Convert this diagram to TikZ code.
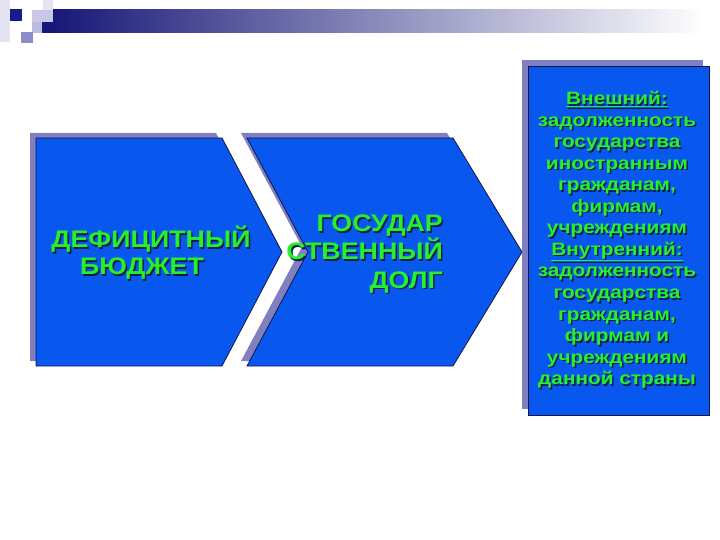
\documentclass[tikz,border=0pt]{standalone}
\usepackage{fontspec}
\setmainfont{Liberation Sans}
\newfontfamily\widefont[FakeStretch=1.12]{Liberation Sans}
\newfontfamily\widerfont[FakeStretch=1.16]{Liberation Sans}
\definecolor{fblue}{RGB}{8,88,240}
\definecolor{lav}{RGB}{128,128,192}
\definecolor{navyline}{RGB}{20,20,70}
\definecolor{tgreen}{RGB}{40,240,40}
\definecolor{tshadow}{RGB}{10,30,80}
\definecolor{barnavy}{RGB}{24,24,120}
\definecolor{paleL}{RGB}{228,228,242}
\definecolor{lightL}{RGB}{200,200,230}
\definecolor{midL}{RGB}{140,140,200}
\definecolor{darkSq}{RGB}{26,26,140}
\newcommand\shtxt[1]{\makebox[0pt][l]{\kern1.5bp\raisebox{-1.5bp}{\textcolor{tshadow}{#1}}}\textcolor{tgreen}{#1}}
\begin{document}
\begin{tikzpicture}[x=1bp,y=-1bp,
  shadowfill/.style={fill=lav,draw=none},
  blk/.style={fill=fblue,draw=navyline,line width=0.8bp},
  bigtxt/.style={font=\widefont\bfseries\fontsize{24}{28}\selectfont,inner sep=0pt,text height=17bp,text depth=3bp},
  smalltxt/.style={font=\widerfont\bfseries\fontsize{18}{21}\selectfont,inner sep=0pt,text height=13bp,text depth=3bp}]
\useasboundingbox (0,0) rectangle (720,540);
\fill[white] (0,0) rectangle (720,540);
% header decoration
\fill[paleL] (0,0) rectangle (10,42);
\fill[paleL] (43,0) rectangle (53,10);
\shade[left color=barnavy,right color=white] (53,10) rectangle (705,33);
\fill[barnavy] (42,22) rectangle (53,33);
\fill[lightL] (32,10) rectangle (53,22);
\fill[lightL!80!midL] (32,22) rectangle (42,33);
\fill[darkSq] (10,9) rectangle (22,21);
\fill[midL] (21,32) rectangle (33,43);
% shape 1
\fill[shadowfill] (30,133) -- (216,133) -- (276,247) -- (216,361) -- (30,361) -- cycle;
\path[blk] (36,138) -- (222,138) -- (282,252) -- (222,366) -- (36,366) -- cycle;
% shape 2
\fill[shadowfill] (241,133) -- (447,133) -- (516,247) -- (447,361) -- (241,361) -- (302,247) -- cycle;
\path[blk] (247,138) -- (453,138) -- (522,252) -- (453,366) -- (247,366) -- (308,252) -- cycle;
% right box
\fill[shadowfill] (522,60) rectangle (703,409);
\path[blk] (528,66) rectangle (709,415);
% texts shape 1
\node[bigtxt,anchor=base] (t1) at (151,248) {\shtxt{ДЕФИЦИТНЫЙ}};
\node[bigtxt,anchor=base] (t2) at (142,275) {\shtxt{БЮДЖЕТ}};
% texts shape 2
\node[bigtxt,anchor=base east] (u1) at (443,232) {\shtxt{ГОСУДАР}};
\node[bigtxt,anchor=base east] (u2) at (443,260) {\shtxt{СТВЕННЫЙ}};
\node[bigtxt,anchor=base east] (u3) at (443,288) {\shtxt{ДОЛГ}};
% right box text
\foreach \t [count=\i] in {{\underline{Внешний:}}, задолженность, государства, иностранным, {гражданам,}, {фирмам,}, учреждениям, {\underline{Внутренний:}}, задолженность, государства, {гражданам,}, фирмам и, учреждениям, данной страны} {
  \node[smalltxt,anchor=base] (r\i) at ({617},{105+21.5*(\i-1)}) {\shtxt{\t}};
}
\end{tikzpicture}
\end{document}
